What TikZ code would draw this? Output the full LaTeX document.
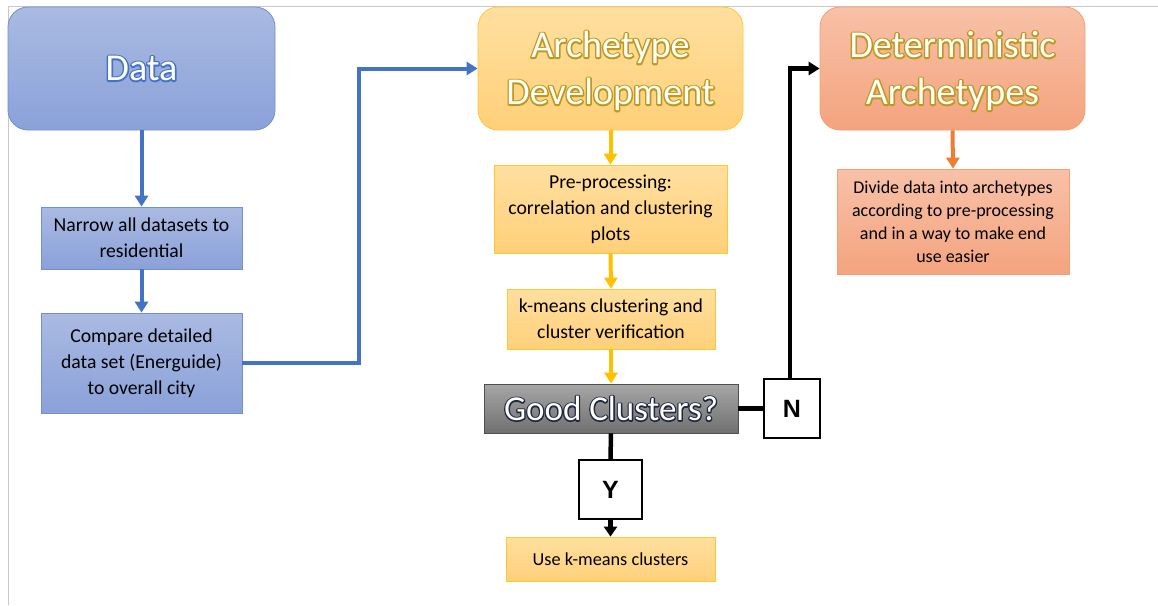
\documentclass[tikz,border=0pt]{standalone}
\usepackage{fontspec}
\setmainfont{Carlito}
\newfontfamily\ynfont{Liberation Sans}
\usetikzlibrary{arrows.meta}

% haloed lettering: a stroked copy in the given RGB underneath, the filled text on top
\newcommand\halotext[3]{%
  \rlap{\special{pdf:literal direct 1 Tr #2 w 1 j #1 RG}#3\special{pdf:literal direct 0 Tr}}#3}

\definecolor{blueA}{HTML}{AABAE2}
\definecolor{blueB}{HTML}{8AA1D9}
\definecolor{blueEdge}{HTML}{7090CE}
\definecolor{blueLine}{HTML}{4472C4}
\definecolor{yelA}{HTML}{FFDF9F}
\definecolor{yelB}{HTML}{FFD07A}
\definecolor{yelEdge}{HTML}{FFC832}
\definecolor{yelLine}{HTML}{FFC000}
\definecolor{orgA}{HTML}{F8C1A8}
\definecolor{orgB}{HTML}{F4A37E}
\definecolor{orgEdge}{HTML}{F4A070}
\definecolor{orgLine}{HTML}{ED7D31}
\definecolor{greyA}{HTML}{A6A6A6}
\definecolor{greyB}{HTML}{707070}
\definecolor{greyEdge}{HTML}{505050}
\definecolor{frameGrey}{HTML}{C8C8C8}

\tikzset{
  x=1pt, y=-1pt,
  titlebox/.style={rounded corners=20pt, line width=0.8pt, inner sep=0pt,
    align=center, font=\fontsize{38}{47}\selectfont, text=white},
  bluebox/.style={shading=axis, top color=blueA, bottom color=blueB, draw=blueEdge},
  yelbox/.style={shading=axis, top color=yelA, bottom color=yelB, draw=yelEdge},
  orgbox/.style={shading=axis, top color=orgA, bottom color=orgB, draw=orgEdge},
  stepbox/.style={line width=0.8pt, inner sep=0pt, align=center,
    font=\fontsize{19.7}{26}\selectfont, text=black},
  answerbox/.style={draw=black, fill=white, line width=1.6pt, inner sep=0pt,
    font=\ynfont\bfseries\fontsize{25}{30}\selectfont},
  bluearrow/.style={draw=blueLine, line width=4pt,
    -{Triangle[length=11pt,width=13pt]}},
  yelarrow/.style={draw=yelLine, line width=4pt,
    -{Triangle[length=11pt,width=13pt]}},
  orgarrow/.style={draw=orgLine, line width=4pt,
    -{Triangle[length=11pt,width=13pt]}},
  blackline/.style={draw=black, line width=4.5pt},
}

\begin{document}
\begin{tikzpicture}
\useasboundingbox (0,0) rectangle (1158,605);
\fill[white] (0,0) rectangle (1158,605);

% page frame
\draw[frameGrey, line width=1pt] (8.5,605) -- (8.5,6.5) -- (1158,6.5);

% left column: data preparation
\node[titlebox, bluebox, minimum width=267pt, minimum height=123pt]
  (data) at (141.5,68.5) {\halotext{0.27 0.45 0.77}{3}{Data}};
\node[stepbox, bluebox, minimum width=201pt, minimum height=62pt]
  (narrow) at (141.5,238) {Narrow all datasets to\\residential};
\node[stepbox, bluebox, minimum width=201pt, minimum height=100pt]
  (compare) at (141.5,363) {Compare detailed\\data set (Energuide)\\to overall city};

% middle column: archetype development
\node[titlebox, yelbox, minimum width=265pt, minimum height=123pt]
  (arch) at (610.5,68.5) {};
\node[align=center, inner sep=0pt, font=\fontsize{38}{47}\selectfont, text=white]
  (archtitle) at (610.5,71) {\halotext{0.75 0.60 0.10}{3}{Archetype}\\\halotext{0.75 0.60 0.10}{3}{Development}};
\node[stepbox, yelbox, minimum width=233pt, minimum height=88pt]
  (pre) at (610.5,209) {Pre-processing:\\correlation and clustering\\plots};
\node[stepbox, yelbox, minimum width=208pt, minimum height=60pt]
  (kmeans) at (611,319) {k-means clustering and\\cluster verification};
\node[line width=0.8pt, inner sep=0pt, shading=axis, top color=greyA,
  bottom color=greyB, draw=greyEdge, minimum width=254pt, minimum height=49pt,
  font=\fontsize{35}{40}\selectfont, text=white]
  (good) at (611,408.5) {\halotext{0.12 0.16 0.25}{2.6}{Good Clusters?}};
\node[answerbox, minimum width=63pt, minimum height=59pt]
  (yes) at (610.5,489.5) {Y};
\node[answerbox, minimum width=56pt, minimum height=59pt]
  (no) at (792,408.5) {N};
\node[stepbox, yelbox, minimum width=209pt, minimum height=44pt,
  font=\fontsize{18.3}{24}\selectfont]
  (use) at (610.5,559) {Use k-means clusters};

% right column: deterministic archetypes
\node[titlebox, orgbox, minimum width=265pt, minimum height=123pt]
  (det) at (952.5,68.5) {};
\node[align=center, inner sep=0pt, font=\fontsize{38}{47}\selectfont, text=white]
  (dettitle) at (952.5,71) {\halotext{0.75 0.60 0.10}{3}{Deterministic}\\\halotext{0.75 0.60 0.10}{3}{Archetypes}};
\node[stepbox, orgbox, minimum width=232pt, minimum height=105pt,
  font=\fontsize{18}{23}\selectfont]
  (divide) at (953,221.5) {Divide data into archetypes\\according to pre-processing\\and in a way to make end\\use easier};

% connectors
\draw[bluearrow] (data.south) -- (narrow.north);
\draw[bluearrow] (narrow.south) -- (compare.north);
\coordinate (jog) at (359,0);
\draw[bluearrow] (compare.east) -- (compare.east -| jog) -- (jog |- arch.west) -- (arch.west);

\draw[yelarrow] (arch.south) -- (pre.north);
\draw[yelarrow] (pre.south) -- (kmeans.north);
\draw[yelarrow] (kmeans.south) -- (good.north);

\draw[blackline] (good.east) -- (no.west);
\draw[blackline, -{Triangle[length=11pt,width=13pt]}]
  ([xshift=-2pt]no.north) -- ([xshift=-2pt]no.north |- det.west) -- (det.west);
\draw[blackline] (good.south) -- (yes.north);
\draw[blackline, -{Triangle[length=10pt,width=13pt]}] (yes.south) -- (use.north);

\draw[orgarrow] (det.south) -- (divide.north);
\end{tikzpicture}
\end{document}
